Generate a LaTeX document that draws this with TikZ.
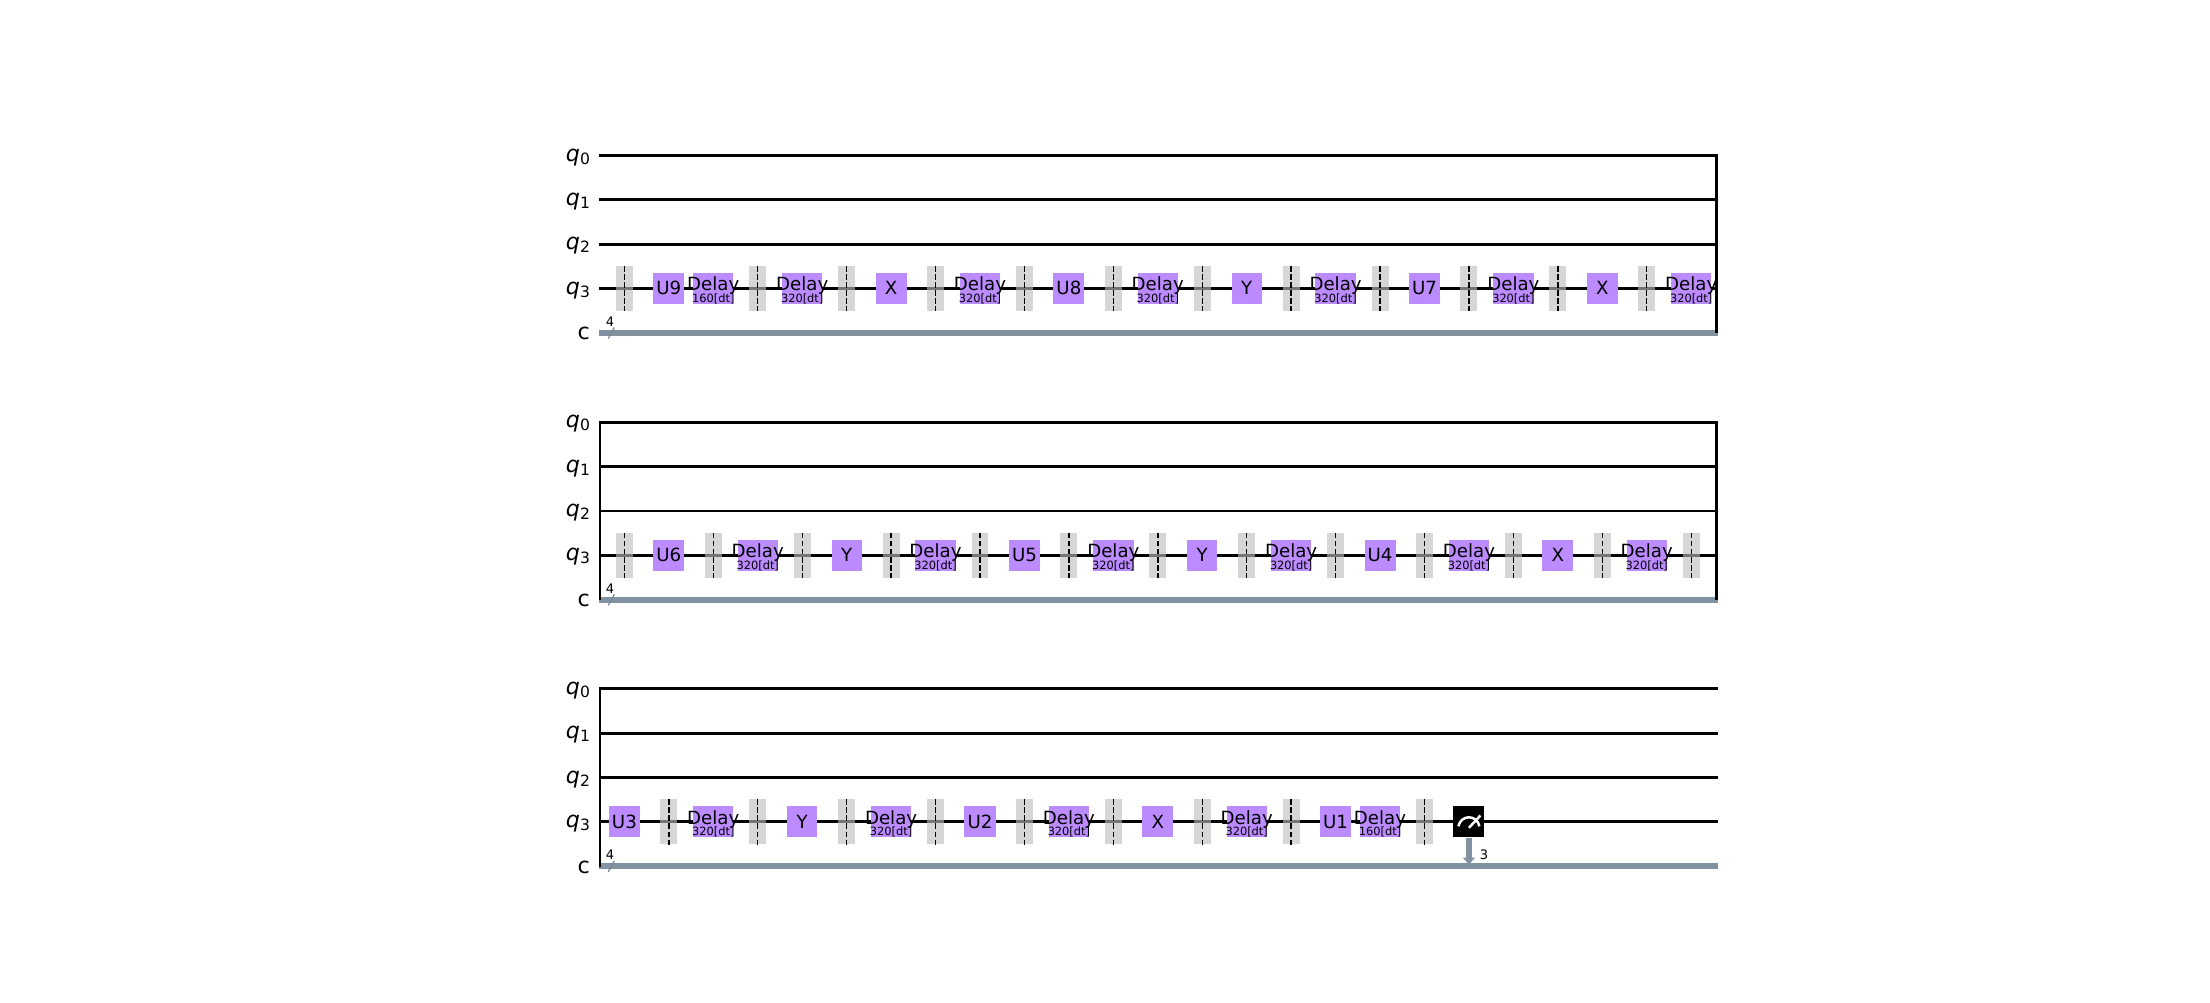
\documentclass[tikz,border=0pt]{standalone}
\usepackage{fontspec}
\setmainfont{DejaVu Sans}
\usetikzlibrary{arrows.meta}
\definecolor{gatepurple}{HTML}{BB8BFF}
\definecolor{classic}{HTML}{778899}
\definecolor{barriergray}{HTML}{BDBDBD}
\tikzset{
  wire/.style={line width=1.0pt,black},
  sideline/.style={line width=0.95pt,black},
  cwire/.style={line width=2.1pt,classic!92!white},
  gatebox/.style={fill=gatepurple,draw=none,inner sep=0pt,minimum width=11.2pt,minimum height=11.2pt},
  ybox/.style={gatebox,minimum width=10.8pt},
  delaybox/.style={gatebox,minimum width=14.5pt},
  measbox/.style={fill=black,draw=none,inner sep=0pt,minimum width=11.2pt,minimum height=11.2pt},
  gatetext/.style={inner sep=0pt,anchor=base,font=\fontsize{6.55}{7}\selectfont,text=black},
  subtext/.style={inner sep=0pt,anchor=base,font=\fontsize{4.1}{4.5}\selectfont,text=black},
  barrierbox/.style={fill=barriergray,fill opacity=0.62,draw=none,inner sep=0pt,minimum width=6.1pt,minimum height=16.2pt},
  barrierline/.style={line width=0.5pt,black,dash pattern=on 2pt off 0.9pt},
  reglabel/.style={inner sep=0pt,anchor=base east,font=\fontsize{8}{9}\selectfont},
  countlabel/.style={inner sep=0pt,anchor=base,font=\fontsize{4.7}{5}\selectfont},
  slashline/.style={line width=0.45pt,classic},
  measline/.style={line width=0.9pt,white},
  measarrow/.style={line width=2.05pt,classic!92!white,-{Triangle[length=2.5pt,width=4.3pt]}},
}
\newcommand{\regsub}[1]{\textit{q}\raisebox{-1.1pt}{\fontsize{5.6}{6}\selectfont #1}}
\newcommand{\rowframe}[2]{%
  \foreach \k/\off in {0/0,1/44.35,2/88.7,3/133}{
    \pgfmathsetmacro\yy{#2+\off}
    \coordinate (#1l\k) at (599.3,\yy);
    \coordinate (#1r\k) at (1718,\yy);
    \draw[wire] (#1l\k) -- (#1r\k);
    \pgfmathsetmacro\yb{\yy+5.6}
    \node[reglabel] (#1lab\k) at (590.5,\yb) {\regsub{\k}};
  }
  \pgfmathsetmacro\yc{#2+177.4}
  \coordinate (#1lc) at (599.3,\yc);
  \coordinate (#1rc) at (1718,\yc);
  \draw[cwire] (#1lc) -- (#1rc);
  \pgfmathsetmacro\yb{\yc+7}
  \node[reglabel] (#1labc) at (590.5,\yb) {c};
  \pgfmathsetmacro\ya{\yc+5.6}\pgfmathsetmacro\yz{\yc-5.4}
  \coordinate (#1sa) at (608.3,\ya);
  \coordinate (#1sb) at (614.3,\yz);
  \draw[slashline] (#1sa) -- (#1sb);
  \pgfmathsetmacro\yn{\yc-6.7}
  \node[countlabel] (#1count) at (610,\yn) {4};
}
\newcommand{\barriers}[3]{%
  \foreach \c in {#3}{
    \pgfmathsetmacro\gx{624.4+\c*44.45}
    \pgfmathsetmacro\ya{#2-22.5}\pgfmathsetmacro\yz{#2+23}
    \node[barrierbox] (#1b\c) at (\gx,#2) {};
    \coordinate (#1bt\c) at (\gx,\ya);
    \coordinate (#1bb\c) at (\gx,\yz);
    \draw[barrierline] (#1bt\c) -- (#1bb\c);
  }
}
\newcommand{\gates}[3]{%
  \foreach \c/\t in {#3}{
    \pgfmathsetmacro\gx{624.4+\c*44.45}
    \pgfmathsetmacro\yb{#2+6.3}
    \if Y\t \node[ybox] (#1g\c) at (\gx,#2) {};\else \node[gatebox] (#1g\c) at (\gx,#2) {};\fi
    \node[gatetext] (#1t\c) at (\gx,\yb) {\t};
  }
}
\newcommand{\delays}[3]{%
  \foreach \c/\t in {#3}{
    \pgfmathsetmacro\gx{624.4+\c*44.45}
    \pgfmathsetmacro\yb{#2+2.4}\pgfmathsetmacro\ys{#2+14}
    \node[delaybox] (#1g\c) at (\gx,#2) {};
    \node[gatetext] (#1t\c) at (\gx,\yb) {Delay};
    \node[subtext] (#1s\c) at (\gx,\ys) {\t[dt]};
  }
}
\begin{document}
\begin{tikzpicture}[x=0.36pt,y=-0.36pt]
\useasboundingbox[fill=white] (0,0) rectangle (2210,1003);
% row 1
\rowframe{a}{155.5}
\coordinate (atr) at (1716.5,155);
\coordinate (abr) at (1716.5,333.2);
\draw[sideline] (atr) -- (abr);
\gates{a}{288.5}{1/U9,6/X,10/U8,14/Y,18/U7,22/X}
\delays{a}{288.5}{2/160,4/320,8/320,12/320,16/320,20/320,24/320}
\barriers{a}{288.5}{0,3,5,7,9,11,13,15,17,19,21,23}
% row 2
\rowframe{b}{422.3}
\coordinate (btl) at (600,421.8);
\coordinate (bbl) at (600,600.2);
\coordinate (btr) at (1716.5,421.8);
\coordinate (bbr) at (1716.5,600.2);
\draw[sideline] (btl) -- (bbl);
\draw[sideline] (btr) -- (bbr);
\gates{b}{555.3}{1/U6,5/Y,9/U5,13/Y,17/U4,21/X}
\delays{b}{555.3}{3/320,7/320,11/320,15/320,19/320,23/320}
\barriers{b}{555.3}{0,2,4,6,8,10,12,14,16,18,20,22,24}
% row 3
\rowframe{d}{688.8}
\coordinate (dtl) at (600,688.3);
\coordinate (dbl) at (600,866.5);
\draw[sideline] (dtl) -- (dbl);
\gates{d}{821.8}{0/U3,4/Y,8/U2,12/X,16/U1}
\delays{d}{821.8}{2/320,6/320,10/320,14/320,17/160}
\barriers{d}{821.8}{1,3,5,7,9,11,13,15,18}
% measure
\node[measbox] (meas) at (1468.9,821.8) {};
\coordinate (measend) at (1468.9,864.5);
\draw[measarrow] (meas.south) -- (measend);
\begin{scope}[shift={(meas.center)}]
  \coordinate (mc) at (0,6);
  \coordinate (mt) at (11.5,-6.3);
  \draw[measline] (-10.5,4.5) .. controls (-9.5,-1) and (-5,-4.5) .. (0,-4.5) .. controls (5,-4.5) and (9.5,-1) .. (10.5,4.5);
  \draw[measline] (mc) -- (mt);
\end{scope}
\node[countlabel] (measbits) at (1484,859.5) {3};
\end{tikzpicture}
\end{document}
